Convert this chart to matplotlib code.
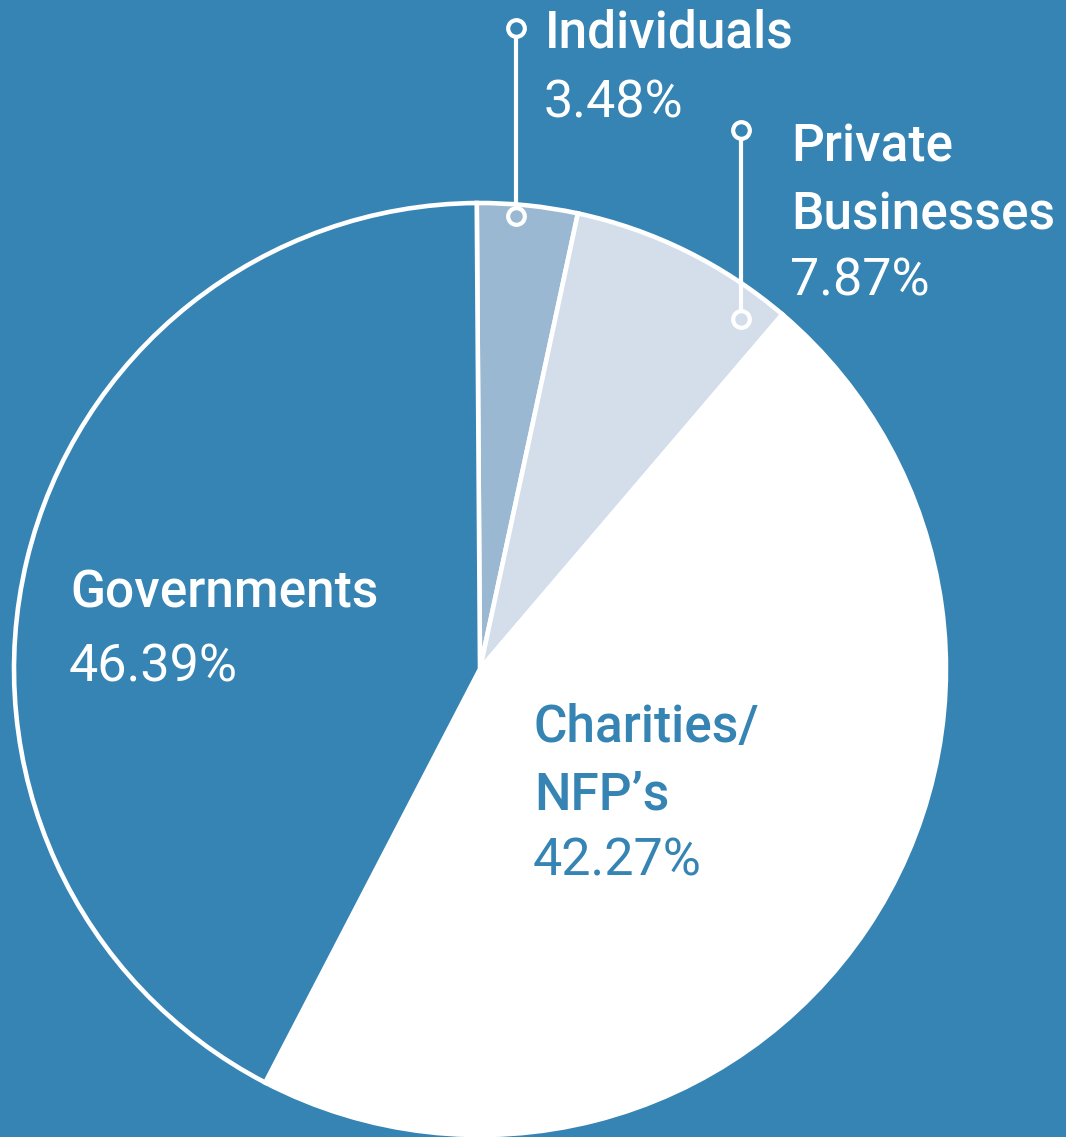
import matplotlib
matplotlib.use("Agg")
import matplotlib.pyplot as plt

# ---- data ----
categories = ["Individuals", "Private Businesses", "Charities/ NFP's", "Governments"]
# slice sizes as drawn in the picture (clockwise from top)
shares = [3.48, 7.87, 46.39, 42.27]
label_names = ["Individuals", "Private\nBusinesses", "Charities/\nNFP\u2019s", "Governments"]
label_pcts = ["3.48%", "7.87%", "42.27%", "46.39%"]

BG = "#3584B3"
colors = ["#9AB8D2", "#D3DEEA", "#FFFFFF", BG]

W, H = 1066, 1137
fig = plt.figure(figsize=(W / 100, H / 100), dpi=100)
fig.patch.set_facecolor(BG)
ax = fig.add_axes([0, 0, 1, 1])
ax.set_facecolor(BG)
ax.set_xlim(0, W)
ax.set_ylim(0, H)
ax.set_aspect("equal")
ax.axis("off")

def Y(y):
    return H - y

cx, cy, r = 480, 669, 466
ax.pie(shares, colors=colors, startangle=90.4, counterclock=False,
       center=(cx, Y(cy)), radius=r,
       wedgeprops=dict(edgecolor="white", linewidth=3.3))
ax.set_xlim(0, W)
ax.set_ylim(0, H)

FONT = "Roboto"
NAME_SIZE = 37
PCT_SIZE = 37.5

def label(x, y_first, names, pct, color, step=67):
    lines = names.split("\n")
    for i, ln in enumerate(lines):
        ax.text(x, Y(y_first + i * step), ln, color=color, fontsize=NAME_SIZE,
                family=FONT, fontweight="medium", va="baseline", ha="left")
    ax.text(x - 1, Y(y_first + len(lines) * step), pct, color=color, fontsize=PCT_SIZE,
            family=FONT, fontweight="normal", va="baseline", ha="left")

label(545, 48, label_names[0], label_pcts[0], "white", step=69)
label(791, 162, label_names[1], label_pcts[1], "white", step=67)
label(534, 742, label_names[2], label_pcts[2], BG, step=67)
label(70, 607, label_names[3], label_pcts[3], "white", step=75)

# leader lines
def leader(x, y0, y1, fill_bottom):
    ax.plot([x, x], [Y(y0), Y(y1)], color="white", lw=3, solid_capstyle="butt", zorder=5)
    ax.plot([x], [Y(y0)], marker="o", ms=12, mew=3, mec="white", mfc=BG, zorder=6)
    ax.plot([x], [Y(y1)], marker="o", ms=12, mew=3, mec="white", mfc=fill_bottom, zorder=6)

leader(516, 28, 216, colors[0])
leader(741, 130, 319, colors[1])

fig.savefig("out.png", dpi=100, facecolor=BG)
